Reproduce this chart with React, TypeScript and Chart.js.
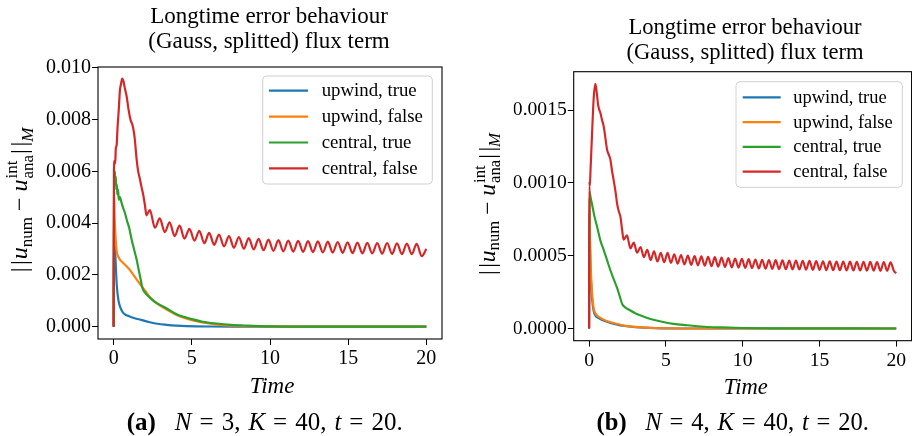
import React, { useEffect, useRef } from "react";
import { Chart, registerables } from "chart.js";

Chart.register(...registerables);

// ---------------- data ----------------
const SERIES_LABELS = ["upwind, true", "upwind, false", "central, true", "central, false"];
const SERIES_COLORS = ["#1f77b4", "#ff7f0e", "#2ca02c", "#d62728"];

const X_TICKS = [0, 5, 10, 15, 20];
const X_TICK_LABELS = ["0", "5", "10", "15", "20"];

const Y_TICKS_A = [0, 0.002, 0.004, 0.006, 0.008, 0.01];
const Y_TICK_LABELS_A = ["0.000", "0.002", "0.004", "0.006", "0.008", "0.010"];
const Y_TICKS_B = [0, 0.0005, 0.001, 0.0015];
const Y_TICK_LABELS_B = ["0.0000", "0.0005", "0.0010", "0.0015"];

// (a) N = 3
const A_BLUE_T = [0, 0.03, 0.06, 0.1, 0.15, 0.2, 0.3, 0.4, 0.5, 0.61, 0.8, 1.0, 1.25, 1.75, 2.32, 2.8, 3.39, 4.0, 4.67, 6.0, 8.0, 20];
const A_BLUE_V = [0, 0.0038, 0.0034, 0.0029, 0.0022, 0.0016, 0.00104, 0.00079, 0.00064, 0.00053, 0.00045, 0.0004, 0.00034, 0.00026, 0.00017, 0.00011, 0.00007, 0.00004, 0.00002, 0.000005, 0.000001, 0];

const A_ORANGE_T = [0, 0.03, 0.06, 0.1, 0.15, 0.2, 0.3, 0.4, 0.55, 0.72, 1.0, 1.25, 1.5, 1.79, 2.0, 2.32, 2.7, 3.0, 3.39, 4.0, 4.67, 5.5, 6.1, 7.0, 8.0, 10, 12, 20];
const A_ORANGE_V = [0, 0.0052, 0.0043, 0.0037, 0.0032, 0.0029, 0.0027, 0.00259, 0.0025, 0.0024, 0.00222, 0.00201, 0.0018, 0.00156, 0.0014, 0.00114, 0.00094, 0.0008, 0.00066, 0.00046, 0.00031, 0.00018, 0.00012, 0.00006, 0.00003, 0.000008, 0.000002, 0];

const A_GREEN_T = [0, 0.02, 0.05, 0.08, 0.11, 0.14, 0.17, 0.2, 0.24, 0.28, 0.33, 0.4, 0.5, 0.6, 0.72, 0.85, 1.0, 1.15, 1.3, 1.47, 1.6, 1.73, 1.8, 1.9, 2.0, 2.11, 2.32, 2.6, 2.96, 3.4, 4.03, 4.6, 5.0, 5.7, 6.6, 7.5, 8.5, 10, 12, 15, 20];
const A_GREEN_V = [0, 0.0061, 0.0058, 0.006, 0.0055, 0.0058, 0.0053, 0.0055, 0.0051, 0.0053, 0.0049, 0.005, 0.0048, 0.0046, 0.0044, 0.0041, 0.0038, 0.00337, 0.003, 0.00259, 0.0022, 0.00182, 0.0016, 0.0014, 0.00132, 0.00124, 0.00112, 0.00097, 0.00084, 0.0007, 0.00048, 0.00036, 0.00029, 0.00019, 0.00012, 0.00007, 0.00004, 0.00001, 0.000003, 0.000001, 0];

const A_RED_T = [0, 0.02, 0.06, 0.1, 0.14, 0.19, 0.25, 0.32, 0.4, 0.48, 0.55, 0.62, 0.72, 0.83, 0.95, 1.04, 1.1, 1.2, 1.3, 1.36, 1.42, 1.47, 1.57, 1.68, 1.78, 1.89, 2.0, 2.1, 2.2, 2.32,
  2.64, 2.95, 3.27, 3.58, 3.9, 4.22, 4.53, 4.85, 5.17, 5.48, 5.8, 6.11, 6.43, 6.74, 7.06, 7.38, 7.69, 8.01, 8.33, 8.64, 8.96, 9.27, 9.59, 9.9,
  10.22, 10.54, 10.85, 11.17, 11.49, 11.8, 12.12, 12.43, 12.75, 13.06, 13.38, 13.7, 14.01, 14.33, 14.65, 14.96, 15.28, 15.59, 15.91, 16.22,
  16.54, 16.86, 17.17, 17.49, 17.81, 18.12, 18.44, 18.75, 19.07, 19.38, 19.7, 20.0];
const A_RED_V = [0, 0.006, 0.0064, 0.0063, 0.0069, 0.007, 0.0077, 0.0083, 0.0091, 0.0094, 0.00958, 0.0095, 0.0092, 0.0089, 0.0084, 0.0081, 0.00795, 0.0078, 0.0075, 0.0072, 0.0068, 0.00646, 0.006, 0.0057, 0.0054, 0.0051, 0.0047, 0.0043, 0.0044, 0.0045,
  0.00382, 0.00418, 0.00365, 0.00403, 0.0035, 0.0039, 0.0034, 0.00378, 0.00332, 0.0037, 0.00322, 0.00362, 0.00316, 0.00356, 0.0031, 0.0035, 0.00305, 0.00346, 0.00301, 0.00342, 0.00298, 0.00339, 0.00295, 0.00336,
  0.00293, 0.00334, 0.00291, 0.00332, 0.0029, 0.00331, 0.00289, 0.0033, 0.00288, 0.00329, 0.00287, 0.00328, 0.00286, 0.00327, 0.00285, 0.00326, 0.00284, 0.00325, 0.00283, 0.00324,
  0.00283, 0.00323, 0.00282, 0.00323, 0.00281, 0.00322, 0.0028, 0.00321, 0.0028, 0.0032, 0.00272, 0.003];

// (b) N = 4
const B_BLUE_T = [0, 0.03, 0.07, 0.1, 0.15, 0.2, 0.3, 0.41, 0.6, 0.85, 1.2, 1.71, 2.3, 3.0, 4.3, 6.0, 20];
const B_BLUE_V = [0, 0.0008, 0.00052, 0.0004, 0.00028, 0.0002, 0.00012, 0.00009, 0.000072, 0.000058, 0.000045, 0.00003, 0.000017, 0.000009, 0.000002, 0, 0];

const B_ORANGE_T = [0, 0.03, 0.07, 0.1, 0.15, 0.2, 0.3, 0.41, 0.6, 0.85, 1.2, 1.71, 2.3, 3.0, 4.3, 6.0, 20];
const B_ORANGE_V = [0, 0.0009, 0.0006, 0.00045, 0.00033, 0.00024, 0.00014, 0.000105, 0.000082, 0.000066, 0.00005, 0.000034, 0.00002, 0.000011, 0.000003, 0, 0];

const B_GREEN_T = [0, 0.03, 0.1, 0.2, 0.35, 0.52, 0.75, 0.95, 1.2, 1.39, 1.6, 1.82, 2.0, 2.15, 2.35, 2.58, 3.0, 3.45, 4.0, 4.75, 5.5, 6.3, 7.5, 8.66, 10, 12, 20];
const B_GREEN_V = [0, 0.00094, 0.0009, 0.00085, 0.00077, 0.0007, 0.0006, 0.00054, 0.00046, 0.0004, 0.00034, 0.00028, 0.00022, 0.00017, 0.000145, 0.00013, 0.000105, 0.000085, 0.000065, 0.000046, 0.000032, 0.000023, 0.000012, 0.000007, 0.000003, 0.000001, 0];

const B_RED_T = [0, 0.02, 0.05, 0.1, 0.2, 0.3, 0.41, 0.5, 0.6, 0.74, 0.85, 0.95, 1.05, 1.17, 1.3, 1.39, 1.5, 1.6, 1.75, 1.82, 1.95, 2.04, 2.15, 2.25,
  2.47, 2.69, 2.91, 3.13, 3.35, 3.57, 3.79, 4.01, 4.23, 4.45, 4.67, 4.89, 5.11, 5.33, 5.55, 5.77, 5.99, 6.21, 6.43, 6.65, 6.87, 7.09, 7.31, 7.53, 7.75, 7.97,
  8.19, 8.41, 8.63, 8.85, 9.07, 9.29, 9.51, 9.73, 9.95, 10.17, 10.39, 10.61, 10.83, 11.05, 11.27, 11.49, 11.71, 11.93, 12.15, 12.37, 12.59, 12.81,
  13.03, 13.25, 13.47, 13.69, 13.91, 14.13, 14.35, 14.57, 14.79, 15.01, 15.23, 15.45, 15.67, 15.89, 16.11, 16.33, 16.55, 16.77, 16.99, 17.21,
  17.43, 17.65, 17.87, 18.09, 18.31, 18.53, 18.75, 18.97, 19.19, 19.41, 19.63, 19.85, 20.0];
const B_RED_V = [0, 0.00101, 0.00098, 0.0011, 0.00135, 0.00158, 0.00168, 0.00162, 0.00153, 0.00148, 0.00143, 0.00139, 0.00132, 0.00123, 0.00119, 0.00116, 0.00108, 0.00102, 0.00092, 0.00086, 0.0008, 0.00077, 0.00068, 0.00061,
  0.00064, 0.00055, 0.00059, 0.00052, 0.00056, 0.00049, 0.00054, 0.00047, 0.00053, 0.00046, 0.00052, 0.000455, 0.00052, 0.00045, 0.00051, 0.000445, 0.000505, 0.00044, 0.0005, 0.000437, 0.000498, 0.000434, 0.000495, 0.000431, 0.000492, 0.000428,
  0.00049, 0.000425, 0.000487, 0.000422, 0.000484, 0.00042, 0.000481, 0.000418, 0.000478, 0.000416, 0.000476, 0.000414, 0.000474, 0.000412, 0.000472, 0.00041, 0.00047, 0.000409, 0.000469, 0.000408, 0.000468, 0.000407,
  0.000467, 0.000406, 0.000466, 0.000405, 0.000465, 0.000404, 0.000464, 0.000403, 0.000463, 0.000402, 0.000462, 0.000401, 0.000461, 0.0004, 0.00046, 0.0004, 0.00046, 0.000399, 0.000459, 0.000398,
  0.000458, 0.000398, 0.000458, 0.000397, 0.000457, 0.000397, 0.000456, 0.000396, 0.000456, 0.000396, 0.000455, 0.000395, 0.00038];

const TITLE_LINES = ["Longtime error behaviour", "(Gauss, splitted) flux term"];
const X_LABEL = "Time";

// ---------------- layout ----------------
const SERIF = '"Liberation Serif", "DejaVu Serif", serif';
const H = 436;
const Y_AXIS_W = 60;
const X_AXIS_H = 40;

type Area = { l: number; t: number; r: number; b: number };
type Panel = {
  key: string;
  left: number;
  width: number;
  s: number;
  area: Area;
  yMin: number;
  yMax: number;
  yTicks: number[];
  yTickLabels: string[];
  series: [number[], number[]][];
  titleCX: number;
  titleBase: [number, number];
  yLabelX: number;
  yLabelCY: number;
  xLabelCX: number;
  xLabelBase: number;
  capLetter: string;
  capN: string;
  capCX: number;
  capBase: number;
  legend: { x: number; y: number; w: number; h: number; row0: number; dy: number; l0: number; l1: number; tx: number };
};

const PANELS: Panel[] = [
  {
    key: "a",
    left: 0,
    width: 460,
    s: 1,
    area: { l: 98, t: 67, r: 442, b: 339 },
    yMin: -0.000478,
    yMax: 0.01003,
    yTicks: Y_TICKS_A,
    yTickLabels: Y_TICK_LABELS_A,
    series: [[A_BLUE_T, A_BLUE_V], [A_ORANGE_T, A_ORANGE_V], [A_GREEN_T, A_GREEN_V], [A_RED_T, A_RED_V]],
    titleCX: 269,
    titleBase: [22.7, 48.3],
    yLabelX: 27,
    yLabelCY: 200,
    xLabelCX: 272,
    xLabelBase: 393.3,
    capLetter: "(a)",
    capN: "3",
    capCX: 264.7,
    capBase: 430,
    legend: { x: 262.7, y: 76, w: 169.6, h: 108, row0: 14.7, dy: 25.9, l0: 6.3, l1: 45.3, tx: 59 },
  },
  {
    key: "b",
    left: 460,
    width: 452,
    s: 0.982,
    area: { l: 113.7, t: 71.7, r: 451.6, b: 340.7 },
    yMin: -0.000084,
    yMax: 0.001764,
    yTicks: Y_TICKS_B,
    yTickLabels: Y_TICK_LABELS_B,
    series: [[B_BLUE_T, B_BLUE_V], [B_ORANGE_T, B_ORANGE_V], [B_GREEN_T, B_GREEN_V], [B_RED_T, B_RED_V]],
    titleCX: 285,
    titleBase: [34.3, 59.3],
    yLabelX: 34.5,
    yLabelCY: 204,
    xLabelCX: 285.8,
    xLabelBase: 393.6,
    capLetter: "(b)",
    capN: "4",
    capCX: 272.8,
    capBase: 430,
    legend: { x: 276, y: 81.7, w: 166.3, h: 105.6, row0: 15.6, dy: 24.8, l0: 6.7, l1: 44.7, tx: 57.3 },
  },
];

// ---------------- rich text helper ----------------
type Seg = { text?: string; font?: string; dy?: number; gap?: number; stack?: Seg[] };

function segWidth(ctx: CanvasRenderingContext2D, seg: Seg): number {
  if (seg.stack) {
    return Math.max(...seg.stack.map((t) => segWidth(ctx, t)));
  }
  if (seg.gap) return seg.gap;
  ctx.font = seg.font || "";
  return ctx.measureText(seg.text || "").width;
}

function richWidth(ctx: CanvasRenderingContext2D, segs: Seg[]) {
  return segs.reduce((acc, sg) => acc + segWidth(ctx, sg), 0);
}

function drawRich(ctx: CanvasRenderingContext2D, segs: Seg[], x: number, y: number) {
  let cx = x;
  for (const sg of segs) {
    if (sg.stack) {
      for (const t of sg.stack) {
        ctx.font = t.font || "";
        ctx.fillText(t.text || "", cx, y + (t.dy || 0));
      }
    } else if (sg.text) {
      ctx.font = sg.font || "";
      ctx.fillText(sg.text, cx, y + (sg.dy || 0));
    }
    cx += segWidth(ctx, sg);
  }
}

function makeDecor(p: Panel) {
  return {
    id: "decor_" + p.key,
    afterDraw(chart: any) {
      const ctx: CanvasRenderingContext2D = chart.ctx;
      const a = chart.chartArea;
      const s = p.s;
      ctx.save();

      // axes frame
      ctx.strokeStyle = "#000";
      ctx.lineWidth = 1.1;
      ctx.strokeRect(a.left, a.top, a.right - a.left, a.bottom - a.top);

      // legend
      const L = p.legend;
      ctx.beginPath();
      if ((ctx as any).roundRect) (ctx as any).roundRect(L.x, L.y, L.w, L.h, 4 * s);
      else ctx.rect(L.x, L.y, L.w, L.h);
      ctx.fillStyle = "rgba(255,255,255,0.8)";
      ctx.fill();
      ctx.strokeStyle = "#d0d0d0";
      ctx.lineWidth = 1;
      ctx.stroke();
      const lf = 18.8 * s;
      chart.data.datasets.forEach((ds: any, i: number) => {
        const ry = L.y + L.row0 + i * L.dy;
        ctx.strokeStyle = ds.borderColor;
        ctx.lineWidth = 2.2 * s;
        ctx.beginPath();
        ctx.moveTo(L.x + L.l0, ry);
        ctx.lineTo(L.x + L.l1, ry);
        ctx.stroke();
        ctx.fillStyle = "#000";
        ctx.font = `${lf}px ${SERIF}`;
        ctx.textAlign = "left";
        ctx.textBaseline = "alphabetic";
        ctx.fillText(ds.label, L.x + L.tx, ry + 0.3 * lf);
      });

      ctx.fillStyle = "#000";
      ctx.textBaseline = "alphabetic";

      // title
      ctx.textAlign = "center";
      ctx.font = `${23 * s}px ${SERIF}`;
      ctx.fillText(TITLE_LINES[0], p.titleCX, p.titleBase[0]);
      ctx.fillText(TITLE_LINES[1], p.titleCX, p.titleBase[1]);

      // x label
      ctx.font = `italic ${23 * s}px ${SERIF}`;
      ctx.fillText(X_LABEL, p.xLabelCX, p.xLabelBase);

      ctx.textAlign = "left";
      // y label (rotated)
      const big = `${24 * s}px ${SERIF}`;
      const bigI = `italic ${24 * s}px ${SERIF}`;
      const sm = `${17 * s}px ${SERIF}`;
      const smI = `italic ${17 * s}px ${SERIF}`;
      const ySegs: Seg[] = [
        { text: "|", font: big },
        { gap: 2.5 * s },
        { text: "|", font: big },
        { gap: 1 * s },
        { text: "u", font: bigI },
        { text: "num", font: sm, dy: 4.5 * s },
        { gap: 6 * s },
        { text: "\u2212", font: big },
        { gap: 6 * s },
        { text: "u", font: bigI },
        { gap: 1 * s },
        { stack: [{ text: "int", font: sm, dy: -10 * s }, { text: "ana", font: sm, dy: 5.5 * s }] },
        { gap: 1 * s },
        { text: "|", font: big },
        { gap: 2.5 * s },
        { text: "|", font: big },
        { text: "M", font: smI, dy: 5.5 * s },
      ];
      const yw = richWidth(ctx, ySegs);
      ctx.save();
      ctx.translate(p.yLabelX, p.yLabelCY);
      ctx.rotate(-Math.PI / 2);
      drawRich(ctx, ySegs, -yw / 2, 0);
      ctx.restore();

      // caption
      const cf = 25 * s;
      const rom = `${cf}px ${SERIF}`;
      const ita = `italic ${cf}px ${SERIF}`;
      const eqG = 8 * s;
      const cmG = 8 * s;
      const capSegs: Seg[] = [
        { text: p.capLetter, font: `bold ${cf}px ${SERIF}` },
        { gap: 19 * s },
        { text: "N", font: ita },
        { gap: eqG },
        { text: "=", font: rom },
        { gap: eqG },
        { text: p.capN + ",", font: rom },
        { gap: cmG },
        { text: "K", font: ita },
        { gap: eqG },
        { text: "=", font: rom },
        { gap: eqG },
        { text: "40,", font: rom },
        { gap: cmG },
        { text: "t", font: ita },
        { gap: eqG },
        { text: "=", font: rom },
        { gap: eqG },
        { text: "20.", font: rom },
      ];
      const cw = richWidth(ctx, capSegs);
      drawRich(ctx, capSegs, p.capCX - cw / 2, p.capBase);

      ctx.restore();
    },
  };
}

function buildChart(canvas: HTMLCanvasElement, p: Panel) {
  const s = p.s;
  const datasets = p.series.map(([T, V], i) => ({
    label: SERIES_LABELS[i],
    data: T.map((t, k) => ({ x: t, y: V[k] })),
    borderColor: SERIES_COLORS[i],
    backgroundColor: SERIES_COLORS[i],
    borderWidth: 2.2 * s,
    pointRadius: 0,
    fill: false,
    cubicInterpolationMode: "monotone" as const,
    order: 4 - i,
  }));
  const tickFont = { family: SERIF, size: 20 * s };
  return new Chart(canvas, {
    type: "line",
    data: { datasets },
    options: {
      responsive: false,
      animation: false,
      devicePixelRatio: 1,
      parsing: false as any,
      normalized: true,
      layout: {
        padding: {
          left: p.area.l - Y_AXIS_W,
          right: p.width - p.area.r,
          top: p.area.t,
          bottom: H - p.area.b - X_AXIS_H,
        },
      },
      plugins: {
        legend: { display: false },
        tooltip: { enabled: false },
        title: { display: false },
      },
      scales: {
        x: {
          type: "linear",
          min: -1,
          max: 21,
          afterBuildTicks: (sc: any) => {
            sc.ticks = X_TICKS.map((v) => ({ value: v }));
          },
          afterFit: (sc: any) => {
            sc.height = X_AXIS_H;
          },
          grid: { drawOnChartArea: false, drawTicks: true, tickLength: 6 * s, color: "#000", lineWidth: 1 },
          border: { display: false },
          ticks: {
            font: tickFont,
            color: "#000",
            padding: 2,
            maxRotation: 0,
            autoSkip: false,
            callback: (v: any) => X_TICK_LABELS[X_TICKS.indexOf(Number(v))] ?? "",
          },
        },
        y: {
          type: "linear",
          min: p.yMin,
          max: p.yMax,
          afterBuildTicks: (sc: any) => {
            sc.ticks = p.yTicks.map((v) => ({ value: v }));
          },
          afterFit: (sc: any) => {
            sc.width = Y_AXIS_W;
          },
          grid: { drawOnChartArea: false, drawTicks: true, tickLength: 6 * s, color: "#000", lineWidth: 1 },
          border: { display: false },
          ticks: {
            font: tickFont,
            color: "#000",
            padding: 1,
            autoSkip: false,
            callback: (v: any) => p.yTickLabels[p.yTicks.indexOf(Number(v))] ?? "",
          },
        },
      },
    },
    plugins: [makeDecor(p)],
  } as any);
}

function PanelCanvas({ p }: { p: Panel }) {
  const ref = useRef<HTMLCanvasElement | null>(null);
  useEffect(() => {
    if (!ref.current) return;
    const chart = buildChart(ref.current, p);
    return () => chart.destroy();
  }, [p]);
  return (
    <canvas
      ref={ref}
      width={p.width}
      height={H}
      style={{ position: "absolute", left: p.left, top: 0, width: p.width, height: H }}
    />
  );
}

export default function App() {
  return (
    <div style={{ position: "absolute", left: 0, top: 0, width: 912, height: H, background: "#fff" }}>
      {PANELS.map((p) => (
        <PanelCanvas key={p.key} p={p} />
      ))}
    </div>
  );
}
